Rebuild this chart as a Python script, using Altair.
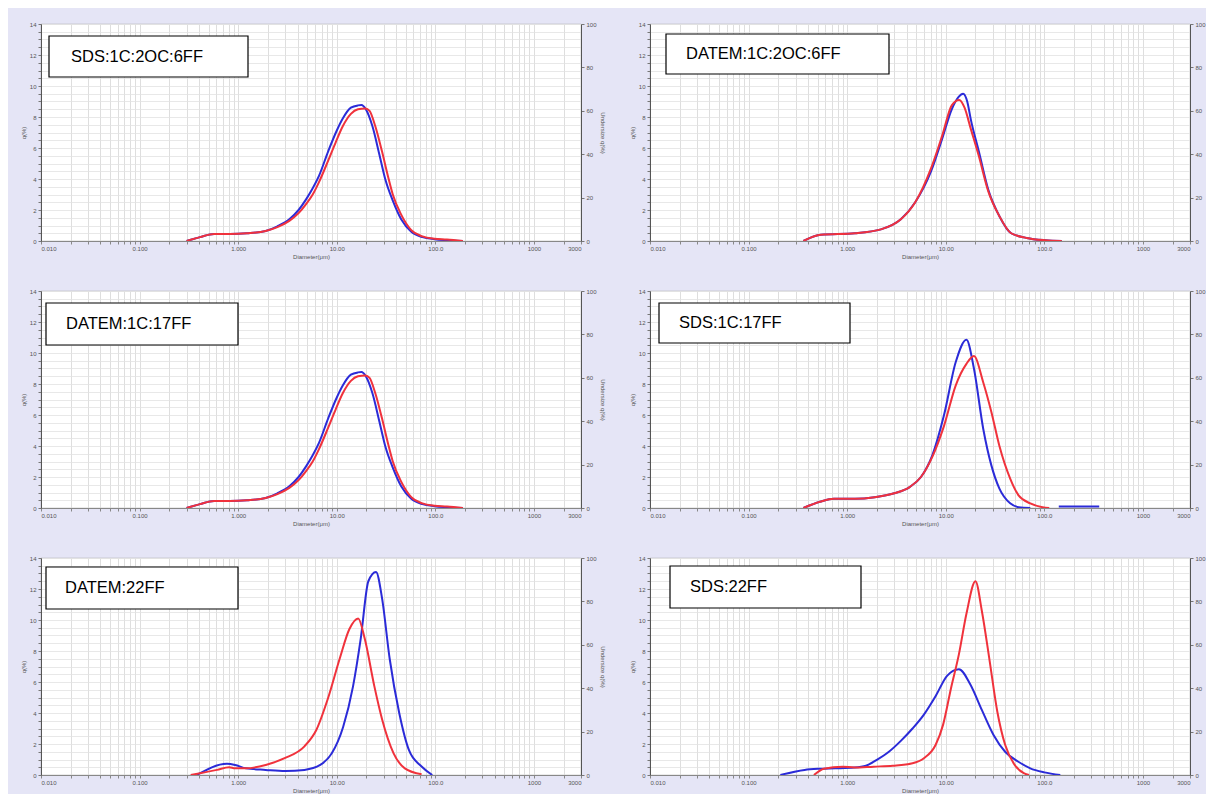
import altair as alt
import pandas as pd

# ---------------- data ----------------
panel_labels = ["SDS:1C:2OC:6FF", "DATEM:1C:2OC:6FF", "DATEM:1C:17FF",
                "SDS:1C:17FF", "DATEM:22FF", "SDS:22FF"]

x_label_text = {0.01: "0.010", 0.1: "0.100", 1: "1.000", 10: "10.00",
                100: "100.0", 1000: "1000", 3000: "3000"}
y_left_ticks = [0, 2, 4, 6, 8, 10, 12, 14]
y_right_ticks = [0, 20, 40, 60, 80, 100]

# Panel 1: SDS:1C:2OC:6FF
p1_blue_d = [0.30, 0.41, 0.57, 0.82, 1.23, 1.9, 2.5, 3.3, 4.1, 4.9, 5.7, 6.6, 8.2, 9.8, 11.5, 13.9, 16.4, 17.8, 19.7, 23, 27, 31, 37, 45, 57, 74, 98, 131, 190]
p1_blue_q = [0, 0.25, 0.45, 0.45, 0.5, 0.65, 0.95, 1.4, 2.0, 2.7, 3.4, 4.2, 5.8, 7.0, 7.9, 8.6, 8.75, 8.77, 8.5, 7.4, 5.6, 4.0, 2.6, 1.4, 0.6, 0.25, 0.12, 0.05, 0]
p1_red_d = [0.30, 0.41, 0.57, 0.82, 1.23, 1.9, 2.5, 3.3, 4.1, 4.9, 5.7, 6.6, 8.2, 9.8, 11.5, 13.9, 16.4, 19.5, 21.5, 24.6, 28.7, 33, 37, 45, 57, 74, 98, 131, 190]
p1_red_q = [0, 0.25, 0.45, 0.45, 0.5, 0.65, 0.9, 1.3, 1.8, 2.4, 3.0, 3.8, 5.2, 6.4, 7.4, 8.2, 8.5, 8.55, 8.4, 7.4, 5.8, 4.2, 3.0, 1.7, 0.7, 0.3, 0.15, 0.1, 0]

# Panel 2: DATEM:1C:2OC:6FF
p2_blue_d = [0.36, 0.54, 1.2, 2.2, 3.5, 4.9, 7.1, 9.2, 11.5, 13.5, 15, 16.5, 18, 21.6, 27, 35, 46, 66, 102, 150]
p2_blue_q = [0, 0.4, 0.5, 0.75, 1.4, 2.5, 4.5, 6.6, 8.5, 9.3, 9.5, 9.0, 7.8, 5.8, 3.3, 1.6, 0.5, 0.2, 0.05, 0]
p2_red_d = [0.36, 0.54, 1.2, 2.2, 3.5, 4.9, 7.1, 9.2, 11.5, 13.7, 15.5, 18, 21.6, 27, 35, 46, 66, 102, 150]
p2_red_q = [0, 0.4, 0.5, 0.75, 1.4, 2.5, 4.7, 6.8, 8.75, 9.1, 8.6, 7.2, 5.5, 3.2, 1.6, 0.5, 0.2, 0.05, 0]

# Panel 3: DATEM:1C:17FF
p3_blue_d = [0.30, 0.41, 0.57, 0.82, 1.23, 1.9, 2.5, 3.3, 4.1, 4.9, 5.7, 6.6, 8.2, 9.8, 11.5, 13.9, 16.4, 17.8, 19.7, 23, 27, 31, 37, 45, 57, 74, 98, 131, 190]
p3_blue_q = [0, 0.25, 0.45, 0.45, 0.5, 0.65, 0.95, 1.4, 2.0, 2.7, 3.4, 4.2, 5.8, 7.0, 7.9, 8.6, 8.75, 8.77, 8.5, 7.4, 5.6, 4.0, 2.6, 1.4, 0.6, 0.25, 0.12, 0.05, 0]
p3_red_d = [0.30, 0.41, 0.57, 0.82, 1.23, 1.9, 2.5, 3.3, 4.1, 4.9, 5.7, 6.6, 8.2, 9.8, 11.5, 13.9, 16.4, 19.5, 21.5, 24.6, 28.7, 33, 37, 45, 57, 74, 98, 131, 190]
p3_red_q = [0, 0.25, 0.45, 0.45, 0.5, 0.65, 0.9, 1.3, 1.8, 2.4, 3.0, 3.8, 5.2, 6.4, 7.4, 8.2, 8.5, 8.55, 8.4, 7.4, 5.8, 4.2, 3.0, 1.7, 0.7, 0.3, 0.15, 0.1, 0]

# Panel 4: SDS:1C:17FF
p4_blue_d = [0.36, 0.53, 0.73, 1.2, 1.9, 3.0, 4.3, 5.6, 7.3, 9.6, 12.6, 16.2, 19.3, 24, 29, 35, 45, 55, 72]
p4_blue_q = [0, 0.4, 0.6, 0.6, 0.7, 0.95, 1.35, 2.0, 3.4, 6.0, 9.4, 10.86, 9.0, 5.1, 2.75, 1.25, 0.3, 0.05, 0]
p4_blue2_d = [140, 200, 280, 360]
p4_blue2_q = [0.1, 0.1, 0.1, 0.1]
p4_red_d = [0.36, 0.53, 0.73, 1.2, 1.9, 3.0, 4.3, 5.6, 7.3, 9.6, 12.6, 16.2, 19.3, 24, 29, 35, 45, 55, 72, 96, 112]
p4_red_q = [0, 0.4, 0.6, 0.6, 0.7, 0.95, 1.35, 2.0, 3.3, 5.3, 7.9, 9.3, 9.8, 8.1, 6.2, 4.0, 1.9, 0.8, 0.3, 0.05, 0]

# Panel 5: DATEM:22FF
p5_blue_d = [0.38, 0.77, 0.93, 1.2, 1.9, 3.0, 4.7, 6.8, 8.9, 11.6, 14.6, 17.5, 20.9, 25, 28.8, 34.4, 43, 54, 72.5, 93]
p5_blue_q = [0, 0.72, 0.65, 0.43, 0.33, 0.26, 0.33, 0.65, 1.4, 3.1, 5.7, 8.8, 12.5, 13.1, 11.4, 7.5, 4.0, 1.6, 0.55, 0]
p5_red_d = [0.33, 0.61, 0.81, 0.93, 1.2, 1.9, 3.0, 4.7, 6.2, 8.1, 10.7, 13.4, 16.5, 19.2, 24, 28.8, 37.7, 49, 72.5]
p5_red_q = [0, 0.33, 0.5, 0.43, 0.43, 0.65, 1.1, 1.85, 2.9, 4.9, 7.5, 9.4, 10.1, 8.8, 5.75, 3.6, 1.4, 0.43, 0.05]

# Panel 6: SDS:22FF
p6_blue_d = [0.21, 0.37, 0.52, 0.76, 1.18, 1.55, 2.0, 2.65, 3.5, 4.6, 6.0, 7.9, 10.3, 13.6, 17.7, 23.2, 30.4, 40, 54, 72, 100, 145]
p6_blue_q = [0, 0.33, 0.4, 0.43, 0.48, 0.6, 0.98, 1.5, 2.2, 3.0, 3.9, 5.1, 6.4, 6.83, 5.86, 4.2, 2.6, 1.5, 0.87, 0.43, 0.17, 0]
p6_red_d = [0.46, 0.58, 0.9, 1.18, 1.85, 2.9, 4.6, 6.0, 7.9, 9.4, 11.3, 13.6, 16.2, 20, 23.2, 27.8, 33.3, 40, 50, 62.5, 70]
p6_red_q = [0, 0.4, 0.54, 0.48, 0.54, 0.6, 0.76, 1.08, 1.95, 3.25, 5.6, 7.8, 10.4, 12.5, 10.6, 7.4, 4.1, 1.95, 0.65, 0.1, 0]

panel_series = [
    [("blue", p1_blue_d, p1_blue_q), ("red", p1_red_d, p1_red_q)],
    [("blue", p2_blue_d, p2_blue_q), ("red", p2_red_d, p2_red_q)],
    [("blue", p3_blue_d, p3_blue_q), ("red", p3_red_d, p3_red_q)],
    [("blue", p4_blue_d, p4_blue_q), ("blue", p4_blue2_d, p4_blue2_q), ("red", p4_red_d, p4_red_q)],
    [("blue", p5_blue_d, p5_blue_q), ("red", p5_red_d, p5_red_q)],
    [("blue", p6_blue_d, p6_blue_q), ("red", p6_red_d, p6_red_q)],
]

# ---------------- styling / layout ----------------
BLUE = "#2b2bd8"
RED = "#f0323c"
BG = "#e5e5f6"
GRID = "#d6d6d6"
HGRID = "#e2e2e2"
TXT = "#555555"
W, H = 540, 217

# label-box geometry relative to each plot area (x0, y0, x1, y1, text_x, text_y)
box_geom = [
    (8, 12, 207, 53, 30, 33),
    (16, 10, 239, 50, 36, 30),
    (5, 12, 197, 54, 25, 33),
    (9, 12, 200, 52, 29, 32),
    (5, 9, 197, 51, 24, 30),
    (20, 8, 211, 50, 40, 29),
]

x_grid_vals = []
for e in range(-2, 4):
    for k in range(1, 10):
        v = round(k * 10 ** e, 6)
        if v <= 3000:
            x_grid_vals.append(v)
x_grid_vals.append(3000)
x_grid_vals = sorted(set(x_grid_vals))

parts = []
for val, txt in x_label_text.items():
    parts.append(f"abs(datum.value-{val})<{val}*1e-6?'{txt}'")
x_label_expr = ":".join(parts) + ":''"

y_grid_vals = [i * 0.5 for i in range(29)]


def make_panel(i, right_title):
    rows = []
    for s_idx, (series, ds, qs) in enumerate(panel_series[i]):
        for d, q in zip(ds, qs):
            rows.append({"d": d, "q": q, "series": series, "seg": f"{series}{s_idx}"})
    df = pd.DataFrame(rows)

    x_scale = alt.Scale(type="log", domain=[0.01, 3000], nice=False)
    y_scale = alt.Scale(domain=[0, 14], nice=False, zero=False)

    x_axis = alt.Axis(values=x_grid_vals, tickCount=500, labelExpr=x_label_expr,
                      title="Diameter(μm)",
                      grid=True, gridColor=GRID, gridWidth=0.8, tickSize=3, tickColor="#888",
                      labelFontSize=6, titleFontSize=6, labelColor=TXT, titleColor=TXT,
                      labelOverlap=False, labelPadding=1, titlePadding=2,
                      domainColor="#888", labelFont="Liberation Sans",
                      titleFont="Liberation Sans", titleFontWeight="normal")
    y_axis = alt.Axis(values=y_grid_vals, tickCount=500,
                      labelExpr="datum.value % 2 == 0 ? datum.value : ''",
                      title="q(%)", grid=True, gridColor=HGRID, gridWidth=0.8, tickSize=3,
                      tickColor="#777", labelFontSize=6, titleFontSize=6, labelColor=TXT,
                      titleColor=TXT, labelPadding=2, titlePadding=3, minExtent=12,
                      maxExtent=12, domainColor="#555", labelOverlap=False,
                      labelFont="Liberation Sans", titleFont="Liberation Sans",
                      titleFontWeight="normal")

    base = alt.Chart(df)
    blue = base.transform_filter(alt.datum.series == "blue").mark_line(
        strokeWidth=2, interpolate="monotone", color=BLUE, clip=True
    ).encode(
        x=alt.X("d:Q", scale=x_scale, axis=x_axis),
        y=alt.Y("q:Q", scale=y_scale, axis=y_axis),
        detail="seg:N",
    )
    red = base.transform_filter(alt.datum.series == "red").mark_line(
        strokeWidth=2, interpolate="monotone", color=RED, clip=True
    ).encode(
        x=alt.X("d:Q", scale=x_scale),
        y=alt.Y("q:Q", scale=y_scale),
        detail="seg:N",
    )

    bx0, by0, bx1, by1, tx, ty = box_geom[i]
    lab_df = pd.DataFrame({"label": [panel_labels[i]]})
    box = alt.Chart(lab_df).mark_rect(fill="white", stroke="black", strokeWidth=1.2).encode(
        x=alt.value(bx0), x2=alt.value(bx1), y=alt.value(by0), y2=alt.value(by1)
    )
    text = alt.Chart(lab_df).mark_text(align="left", baseline="middle", fontSize=16.5,
                                       font="Liberation Sans", color="black").encode(
        x=alt.value(tx), y=alt.value(ty), text="label:N"
    )

    right_df = pd.DataFrame({"u": [0, 100]})
    right = alt.Chart(right_df).mark_point(opacity=0).encode(
        y=alt.Y("u:Q", scale=alt.Scale(domain=[0, 100], nice=False),
                axis=alt.Axis(orient="right", values=y_right_ticks, title=right_title,
                              grid=False, tickSize=3, tickColor="#777", labelFontSize=6,
                              titleFontSize=6, labelColor=TXT, titleColor=TXT,
                              labelPadding=2, titlePadding=3, minExtent=15, maxExtent=15,
                              domainColor="#555", labelFont="Liberation Sans",
                              titleFont="Liberation Sans", titleFontWeight="normal"))
    )

    inner = alt.layer(blue, red, box, text)
    return alt.layer(inner, right).resolve_scale(y="independent").properties(width=W, height=H)


rows = []
for r in range(3):
    left = make_panel(2 * r, "Undersize q(%)")
    rightp = make_panel(2 * r + 1, "")
    rows.append(alt.hconcat(left, rightp, spacing=22))

chart = alt.vconcat(*rows, spacing=27).properties(
    background=BG,
    padding={"left": 11, "top": 12, "right": 0, "bottom": 0},
).configure_view(fill="white", stroke="#aaaaaa", strokeWidth=0.6)

chart.save("out.html", embed_options={"renderer": "svg", "actions": False})
